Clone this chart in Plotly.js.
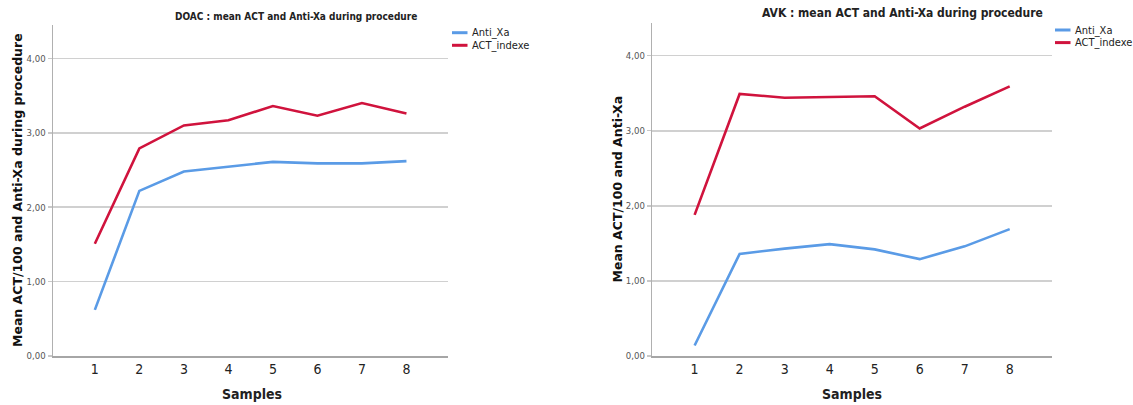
<!DOCTYPE html>
<html>
<head>
<meta charset="utf-8">
<script src="https://cdn.plot.ly/plotly-3.0.1.min.js"></script>
<style>
  html, body { margin: 0; padding: 0; background: #ffffff; }
  #chart { width: 1133px; height: 405px; }
</style>
</head>
<body>
<div id="chart"></div>
<script>
// ---- Data ----
const samples = [1, 2, 3, 4, 5, 6, 7, 8];
const doacAntiXa = [0.62, 2.22, 2.48, 2.55, 2.61, 2.59, 2.59, 2.62];
const doacACT    = [1.51, 2.79, 3.10, 3.17, 3.36, 3.23, 3.40, 3.26];
const avkAntiXa  = [0.14, 1.36, 1.43, 1.49, 1.42, 1.29, 1.46, 1.69];
const avkACT     = [1.88, 3.49, 3.44, 3.45, 3.46, 3.03, 3.32, 3.59];
const yTickVals  = [0, 1, 2, 3, 4];
const yTickText  = ["0,00", "1,00", "2,00", "3,00", "4,00"];
const seriesNames = ["Anti_Xa", "ACT_indexe"];
const titleDOAC = "DOAC : mean ACT and Anti-Xa during procedure";
const titleAVK  = "AVK : mean ACT and Anti-Xa during procedure";
const yTitleDOAC = "Mean ACT/100 and Anti-Xa during procedure";
const yTitleAVK  = "Mean ACT/100 and Anti-Xa";
const xTitle = "Samples";

// ---- Styling ----
const W = 1133, H = 405;
const px = x => x / W;
const py = y => 1 - y / H;
const BLUE = "#5A9BE6";
const RED = "#D0133D";
const COLORS = [BLUE, RED];
const NARROW = "'Liberation Sans Narrow', 'DejaVu Sans Condensed', 'Roboto', sans-serif";
const WIDE = "'DejaVu Sans', 'Verdana', sans-serif";

function trace(y, name, color, xa, ya) {
  return {
    x: samples, y: y, name: name, type: "scatter", mode: "lines",
    line: { color: color, width: 2.6 },
    xaxis: xa, yaxis: ya, showlegend: false, hoverinfo: "x+y+name"
  };
}

const data = [
  trace(doacAntiXa, seriesNames[0], BLUE, "x", "y"),
  trace(doacACT,    seriesNames[1], RED,  "x", "y"),
  trace(avkAntiXa,  seriesNames[0], BLUE, "x2", "y2"),
  trace(avkACT,     seriesNames[1], RED,  "x2", "y2")
];

function xAxis(domain, anchor) {
  return {
    domain: domain, anchor: anchor,
    range: [0.06, 8.94],
    tickvals: samples, ticktext: samples.map(String),
    ticks: "", showgrid: false, zeroline: false,
    showline: true, linecolor: "#a6a6a6", linewidth: 1.5,
    tickfont: { family: NARROW, size: 14, color: "#222" },
    fixedrange: true
  };
}
function yAxis(domain, anchor, top) {
  return {
    domain: domain, anchor: anchor,
    range: [0, top],
    tickvals: yTickVals, ticktext: yTickText,
    ticks: "outside", ticklen: 4, tickcolor: "#c8c8c8", tickwidth: 1.5,
    showgrid: true, gridcolor: "#d0d0d0", gridwidth: 1.6,
    zeroline: false,
    showline: true, linecolor: "#b0b0b0", linewidth: 1.5,
    tickfont: { family: NARROW, size: 9.5, color: "#555" },
    fixedrange: true
  };
}

// Legend keys (decoration): short line + label, like the SPSS legend
const shapes = [];
const legendAnn = [];
function addLegend(x0, yTop, step) {
  seriesNames.forEach((nm, i) => {
    const yy = yTop + i * step;
    shapes.push({ type: "line", xref: "paper", yref: "paper",
      x0: px(x0), x1: px(x0 + 15.5), y0: py(yy), y1: py(yy),
      line: { color: COLORS[i], width: 3 } });
    legendAnn.push({ text: nm, xref: "paper", yref: "paper",
      x: px(x0 + 17.5), y: py(yy), showarrow: false,
      xanchor: "left", yanchor: "middle",
      font: { family: NARROW, size: 11, color: "#222" } });
  });
}
addLegend(452, 32.7, 12.6);
addLegend(1055, 30, 12.6);

const layout = {
  width: W, height: H,
  margin: { l: 0, r: 0, t: 0, b: 0 },
  paper_bgcolor: "#ffffff", plot_bgcolor: "#ffffff",
  showlegend: false,
  xaxis:  xAxis([px(53), px(448.3)], "y"),
  yaxis:  yAxis([py(356), py(25)], "x", 4.45),
  xaxis2: xAxis([px(652.3), px(1052)], "y2"),
  yaxis2: yAxis([py(356), py(22.6)], "x2", 4.44),
  shapes: shapes,
  annotations: [
    { text: titleDOAC, xref: "paper", yref: "paper", x: px(296), y: py(16),
      showarrow: false, xanchor: "center", yanchor: "middle",
      font: { family: NARROW, size: 10, color: "#222", weight: "bold" } },
    { text: titleAVK, xref: "paper", yref: "paper", x: px(902), y: py(12.5),
      showarrow: false, xanchor: "center", yanchor: "middle",
      font: { family: NARROW, size: 12, color: "#222", weight: "bold" } },
    { text: yTitleDOAC, xref: "paper", yref: "paper", x: px(17), y: py(190),
      showarrow: false, textangle: -90, xanchor: "center", yanchor: "middle",
      font: { family: WIDE, size: 12.5, color: "#111", weight: "bold" } },
    { text: yTitleAVK, xref: "paper", yref: "paper", x: px(616.5), y: py(189),
      showarrow: false, textangle: -90, xanchor: "center", yanchor: "middle",
      font: { family: WIDE, size: 12.5, color: "#111", weight: "bold" } },
    { text: xTitle, xref: "paper", yref: "paper", x: px(252), y: py(394),
      showarrow: false, xanchor: "center", yanchor: "middle",
      font: { family: NARROW, size: 14, color: "#222", weight: "bold" } },
    { text: xTitle, xref: "paper", yref: "paper", x: px(852), y: py(394),
      showarrow: false, xanchor: "center", yanchor: "middle",
      font: { family: NARROW, size: 14, color: "#222", weight: "bold" } }
  ].concat(legendAnn)
};

Plotly.newPlot("chart", data, layout, { displayModeBar: false, staticPlot: true });
</script>
</body>
</html>
